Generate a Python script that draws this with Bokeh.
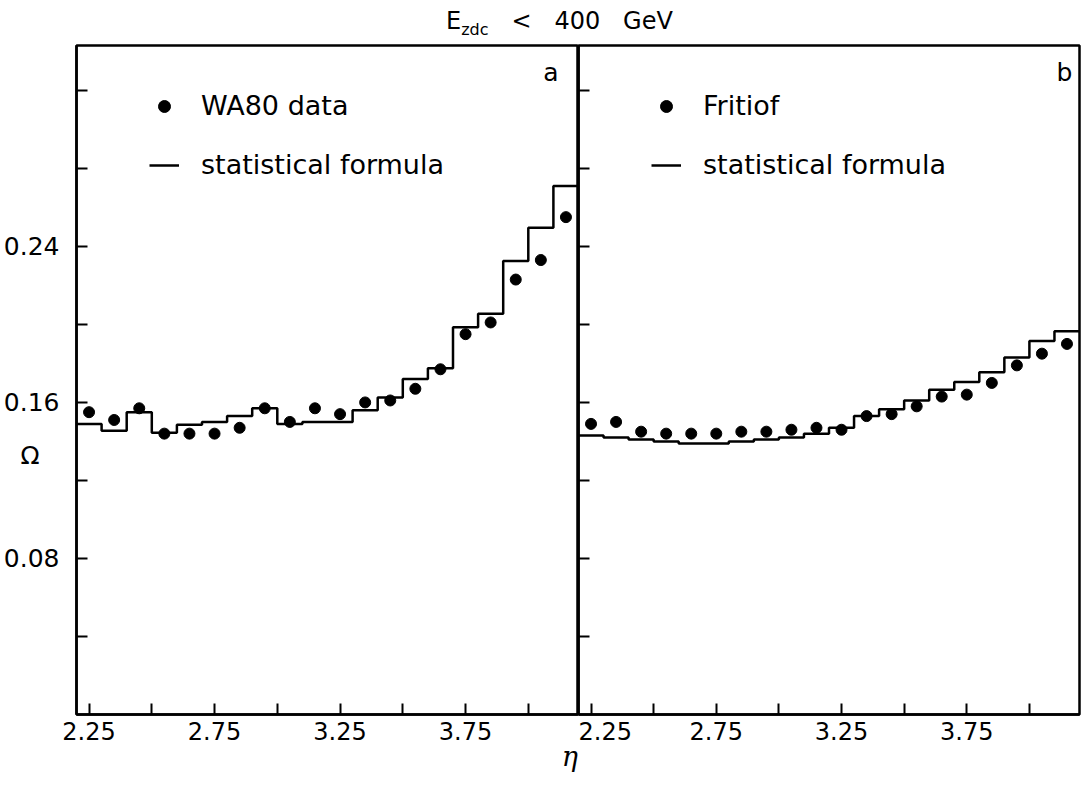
from bokeh.plotting import figure
from bokeh.layouts import row, column
from bokeh.models import Div, Label, Legend, LegendItem, FixedTicker, Range1d, LinearAxis
from bokeh.embed import file_html
from bokeh.resources import INLINE

# ---- data ----
eta_centers = [2.25, 2.35, 2.45, 2.55, 2.65, 2.75, 2.85, 2.95, 3.05, 3.15,
               3.25, 3.35, 3.45, 3.55, 3.65, 3.75, 3.85, 3.95, 4.05, 4.15]
eta_edges = [2.2, 2.3, 2.4, 2.5, 2.6, 2.7, 2.8, 2.9, 3.0, 3.1,
             3.2, 3.3, 3.4, 3.5, 3.6, 3.7, 3.8, 3.9, 4.0, 4.1, 4.2]

wa80_data = [0.155, 0.151, 0.157, 0.144, 0.144, 0.144, 0.147, 0.157, 0.150, 0.157,
             0.154, 0.160, 0.161, 0.167, 0.177, 0.195, 0.201, 0.223, 0.233, 0.255]
wa80_formula = [0.149, 0.1455, 0.155, 0.1445, 0.1485, 0.150, 0.153, 0.157, 0.149, 0.150,
                0.150, 0.156, 0.1625, 0.172, 0.1775, 0.1985, 0.2055, 0.2325, 0.2495, 0.271]

fritiof_data = [0.149, 0.150, 0.145, 0.144, 0.144, 0.144, 0.145, 0.145, 0.146, 0.147,
                0.146, 0.153, 0.154, 0.158, 0.163, 0.164, 0.170, 0.179, 0.185, 0.190]
fritiof_formula = [0.143, 0.142, 0.141, 0.140, 0.139, 0.139, 0.140, 0.141, 0.142, 0.144,
                   0.147, 0.153, 0.1565, 0.161, 0.1665, 0.1705, 0.1755, 0.183, 0.1915, 0.1965]

x_ticks = [2.25, 2.5, 2.75, 3.0, 3.25, 3.5, 3.75, 4.0]
x_tick_labels = {2.25: "2.25", 2.5: "", 2.75: "2.75", 3.0: "", 3.25: "3.25",
                 3.5: "", 3.75: "3.75", 4.0: ""}
y_ticks = [0.04, 0.08, 0.12, 0.16, 0.2, 0.24, 0.28, 0.32]
y_label_ticks = [0.08, 0.133, 0.16, 0.24]
y_label_texts = {0.08: "0.08", 0.133: "\u03a9\u2002\u2009\u200a", 0.16: "0.16", 0.24: "0.24"}
eta_label_tick = [4.165]
eta_label_text = {4.165: "\u03b7"}

FONT = "DejaVu Sans"


def make_panel(points, formula, name, tag, tag_x, first):
    p = figure(frame_width=502 if first else 501, frame_height=669,
               x_range=Range1d(2.2, 4.2), y_range=Range1d(0.0, 0.343),
               output_backend="svg", toolbar_location=None, title=None,
               min_border_left=0, min_border_right=0 if first else 4,
               min_border_top=5, min_border_bottom=56,
               background_fill_color="white", border_fill_color="white")
    p.xgrid.visible = False
    p.ygrid.visible = False
    p.outline_line_color = "black"
    p.outline_line_width = 2.5

    r_line = p.step(x=eta_edges, y=formula + [formula[-1]], mode="after",
                    line_color="black", line_width=2.5)
    r_pts = p.scatter(x=eta_centers, y=points, size=11, color="black")

    for ax in p.xaxis:
        ax.ticker = FixedTicker(ticks=x_ticks)
        ax.major_label_overrides = x_tick_labels
        ax.major_tick_in = 11
        ax.major_tick_out = 0
        ax.minor_tick_line_color = None
        ax.major_tick_line_width = 2
        ax.axis_line_width = 2.5
        ax.major_label_standoff = 7
        ax.major_label_text_font = FONT
        ax.major_label_text_font_size = "24px"
        ax.major_label_text_color = "black"
    for ax in p.yaxis:
        ax.ticker = FixedTicker(ticks=y_ticks)
        ax.major_tick_in = 11
        ax.major_tick_out = 0
        ax.minor_tick_line_color = None
        ax.major_tick_line_width = 2
        ax.axis_line_width = 2.5
        ax.major_label_overrides = {t: "" for t in y_ticks}
        ax.major_label_standoff = 0
        ax.major_label_text_font_size = "1px"

    legend = Legend(items=[LegendItem(label=name, renderers=[r_pts]),
                           LegendItem(label="statistical formula", renderers=[r_line])],
                    location=(73, 534), border_line_color=None, background_fill_alpha=0,
                    padding=0, margin=0, spacing=28, glyph_width=30, glyph_height=30,
                    label_height=30, label_standoff=22, label_text_font=FONT,
                    label_text_font_size="27px", label_text_color="black")
    p.add_layout(legend)

    p.add_layout(Label(x=tag_x, y=0.329, text=tag, text_align="center",
                       text_baseline="middle", text_font=FONT, text_font_size="25px",
                       text_color="black"))
    return p


p1 = make_panel(wa80_data, wa80_formula, "WA80 data", "a", 4.09, True)
p2 = make_panel(fritiof_data, fritiof_formula, "Fritiof", "b", 4.14, False)

# y tick labels and the Omega symbol, on a label-only axis outside the tick axis
y_labels_axis = LinearAxis(ticker=FixedTicker(ticks=y_label_ticks),
                           major_label_overrides=y_label_texts,
                           axis_line_color=None, major_tick_line_color=None,
                           minor_tick_line_color=None, major_label_standoff=11,
                           major_label_text_font=FONT, major_label_text_font_size="25px",
                           major_label_text_color="black")
p1.add_layout(y_labels_axis, "left")

# eta symbol under the divider, on a label-only axis
eta_axis = LinearAxis(ticker=FixedTicker(ticks=eta_label_tick),
                      major_label_overrides=eta_label_text,
                      axis_line_color=None, major_tick_line_color=None,
                      minor_tick_line_color=None, major_label_standoff=-8,
                      major_label_text_font="DejaVu Serif",
                      major_label_text_font_style="italic",
                      major_label_text_font_size="27px",
                      major_label_text_color="black")
p1.add_layout(eta_axis, "below")

title = Div(text=("<div style=\"font-family:'DejaVu Sans';font-size:24px;"
                  "padding-left:446px;padding-top:4px;white-space:pre;color:black;\">"
                  "E<sub style=\"font-size:16px\">zdc</sub>   &lt;   400   GeV</div>"),
            width=1075, height=40, margin=(0, 0, 0, 0))

layout = column(title, row(p1, p2))

open("out.html", "w").write(file_html(layout, INLINE))
